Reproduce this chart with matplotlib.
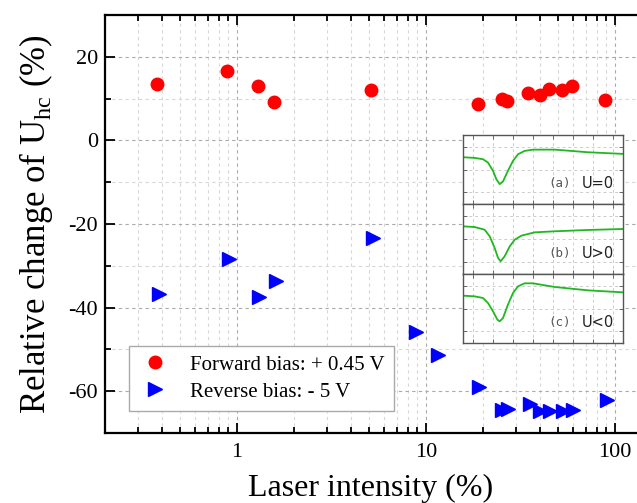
import numpy as np
import matplotlib
matplotlib.use("Agg")
import matplotlib.pyplot as plt
from matplotlib.ticker import FixedLocator, FixedFormatter, MultipleLocator, LogLocator, NullFormatter

plt.rcParams['font.family'] = ['Liberation Serif', 'DejaVu Serif']
plt.rcParams['mathtext.fontset'] = 'custom'
plt.rcParams['mathtext.rm'] = 'Liberation Serif'
plt.rcParams['axes.unicode_minus'] = False

## data
fwd_x = [0.379, 0.885, 1.286, 1.57, 5.12, 18.8, 25.1, 26.9, 34.8, 39.9, 44.9, 52.6, 59.5, 88.5]
fwd_y = [13.5, 16.7, 13.1, 9.2, 12.1, 8.6, 9.8, 9.4, 11.3, 10.9, 12.4, 12.1, 12.9, 9.7]

rev_x = [0.387, 0.904, 1.31, 1.61, 5.22, 8.82, 11.6, 19.1, 25.1, 27.3, 35.5, 40.1, 45.3, 53.2, 60.2, 90.4]
rev_y = [-36.7, -28.3, -37.5, -33.6, -23.3, -45.9, -51.3, -58.9, -64.4, -64.3, -63.1, -64.7, -64.7, -64.7, -64.4, -62.1]

# inset traces (arbitrary units, panel x 0..100, y 0..1)
ins_a_x = [0, 7.3, 12.5, 15.6, 18.75, 20.8, 22.9, 25, 28.1, 31.25, 34.4, 38.5, 43.75, 57.3, 78.1, 100]
ins_a_y = [0.678, 0.668, 0.649, 0.601, 0.481, 0.361, 0.288, 0.327, 0.481, 0.625, 0.721, 0.769, 0.788, 0.788, 0.75, 0.726]
ins_b_x = [0, 7.3, 13.5, 16.7, 19.8, 21.9, 23.5, 26, 29.2, 32.3, 36.5, 44.8, 57.3, 78.1, 100]
ins_b_y = [0.681, 0.671, 0.633, 0.538, 0.371, 0.229, 0.181, 0.252, 0.395, 0.490, 0.548, 0.595, 0.610, 0.629, 0.643]
ins_c_x = [0, 7.3, 12.5, 15.6, 18.75, 21.5, 22.9, 25, 28.1, 31.25, 34.4, 38.5, 43.75, 57.3, 78.1, 100]
ins_c_y = [0.686, 0.676, 0.652, 0.58, 0.459, 0.338, 0.314, 0.362, 0.556, 0.725, 0.821, 0.865, 0.865, 0.812, 0.763, 0.734]
ins_tags = ["(a)", "(b)", "(c)"]
ins_labels = ["U=0", "U>0", "U<0"]

fig = plt.figure(figsize=(6.37, 5.03), dpi=100)
ax = fig.add_axes([105/637, 70/503, 1 - 105/637, 418/503])

ax.plot(fwd_x, fwd_y, 'o', color='#ff0000', markersize=9, linestyle='none', label="Forward bias: + 0.45 V")
ax.plot(rev_x, rev_y, '>', color='#0000ff', markersize=10, linestyle='none', label="Reverse bias: - 5 V")

ax.set_xscale('log')
ax.set_xlim(0.2, 130.8)
ax.set_ylim(-70, 30)

ax.xaxis.set_major_locator(FixedLocator([1, 10, 100]))
ax.xaxis.set_major_formatter(FixedFormatter(["1", "10", "100"]))
ax.xaxis.set_minor_locator(LogLocator(base=10, subs=np.arange(2, 10)))
ax.xaxis.set_minor_formatter(NullFormatter())
ax.yaxis.set_major_locator(MultipleLocator(20))
ax.yaxis.set_minor_locator(MultipleLocator(10))

ax.tick_params(which='both', direction='in', top=True, right=False, labelsize=16, width=1.3)
ax.tick_params(which='major', length=7)
ax.tick_params(which='minor', length=4)
ax.tick_params(axis='x', pad=7)
ax.tick_params(axis='y', pad=5)

ax.grid(which='major', linestyle=(0, (3, 3)), color='#aaaaaa', linewidth=0.8)
ax.grid(which='minor', linestyle=(0, (3, 3)), color='#d8d8d8', linewidth=0.8)
ax.set_axisbelow(True)

for s in ['left', 'bottom', 'top']:
    ax.spines[s].set_linewidth(1.6)
ax.spines['right'].set_visible(False)

ax.set_xlabel("Laser intensity (%)", fontsize=23, labelpad=9)
ax.set_ylabel(r"Relative change of U$_{\mathrm{hc}}$ (%)", fontsize=25, labelpad=10)

leg = ax.legend(loc='lower left', bbox_to_anchor=(24/532, 22/418), borderaxespad=0, fontsize=15,
                frameon=True, fancybox=False, edgecolor='#aaaaaa', framealpha=1,
                borderpad=0.45, handletextpad=0.9, handlelength=1.6, labelspacing=0.35)
leg.get_frame().set_linewidth(1.0)

## inset panels
ins_x = [ins_a_x, ins_b_x, ins_c_x]
ins_y = [ins_a_y, ins_b_y, ins_c_y]
x0, x1 = 463, 623
y_edges = [135, 204, 274, 343]
for i in range(3):
    top = y_edges[i]
    bot = y_edges[i + 1]
    iax = fig.add_axes([x0/637, 1 - bot/503, (x1 - x0)/637, (bot - top)/503])
    iax.set_facecolor('white')
    iax.plot(ins_x[i], ins_y[i], color='#1fb81f', linewidth=1.3)
    iax.set_xlim(0, 100)
    iax.set_ylim(0, 1)
    iax.set_xticks(np.arange(6.25, 100, 12.5))
    iax.set_yticks([0.17, 0.5, 0.83])
    iax.set_xticklabels([])
    iax.set_yticklabels([])
    iax.tick_params(direction='in', length=3, width=0.6, color='#555555', top=True, right=True)
    iax.grid(True, linestyle=(0, (3, 3)), color='#cccccc', linewidth=0.7)
    for s in iax.spines.values():
        s.set_color('#555555')
        s.set_linewidth(1.0)
    iax.text(0.535, 0.30, ins_tags[i], transform=iax.transAxes, fontsize=9,
             family='DejaVu Sans Mono', color='#555555', va='center')
    iax.text(0.74, 0.30, ins_labels[i], transform=iax.transAxes, fontsize=10.5,
             family='DejaVu Sans', color='#222222', va='center')

fig.savefig("out.png", dpi=100)
